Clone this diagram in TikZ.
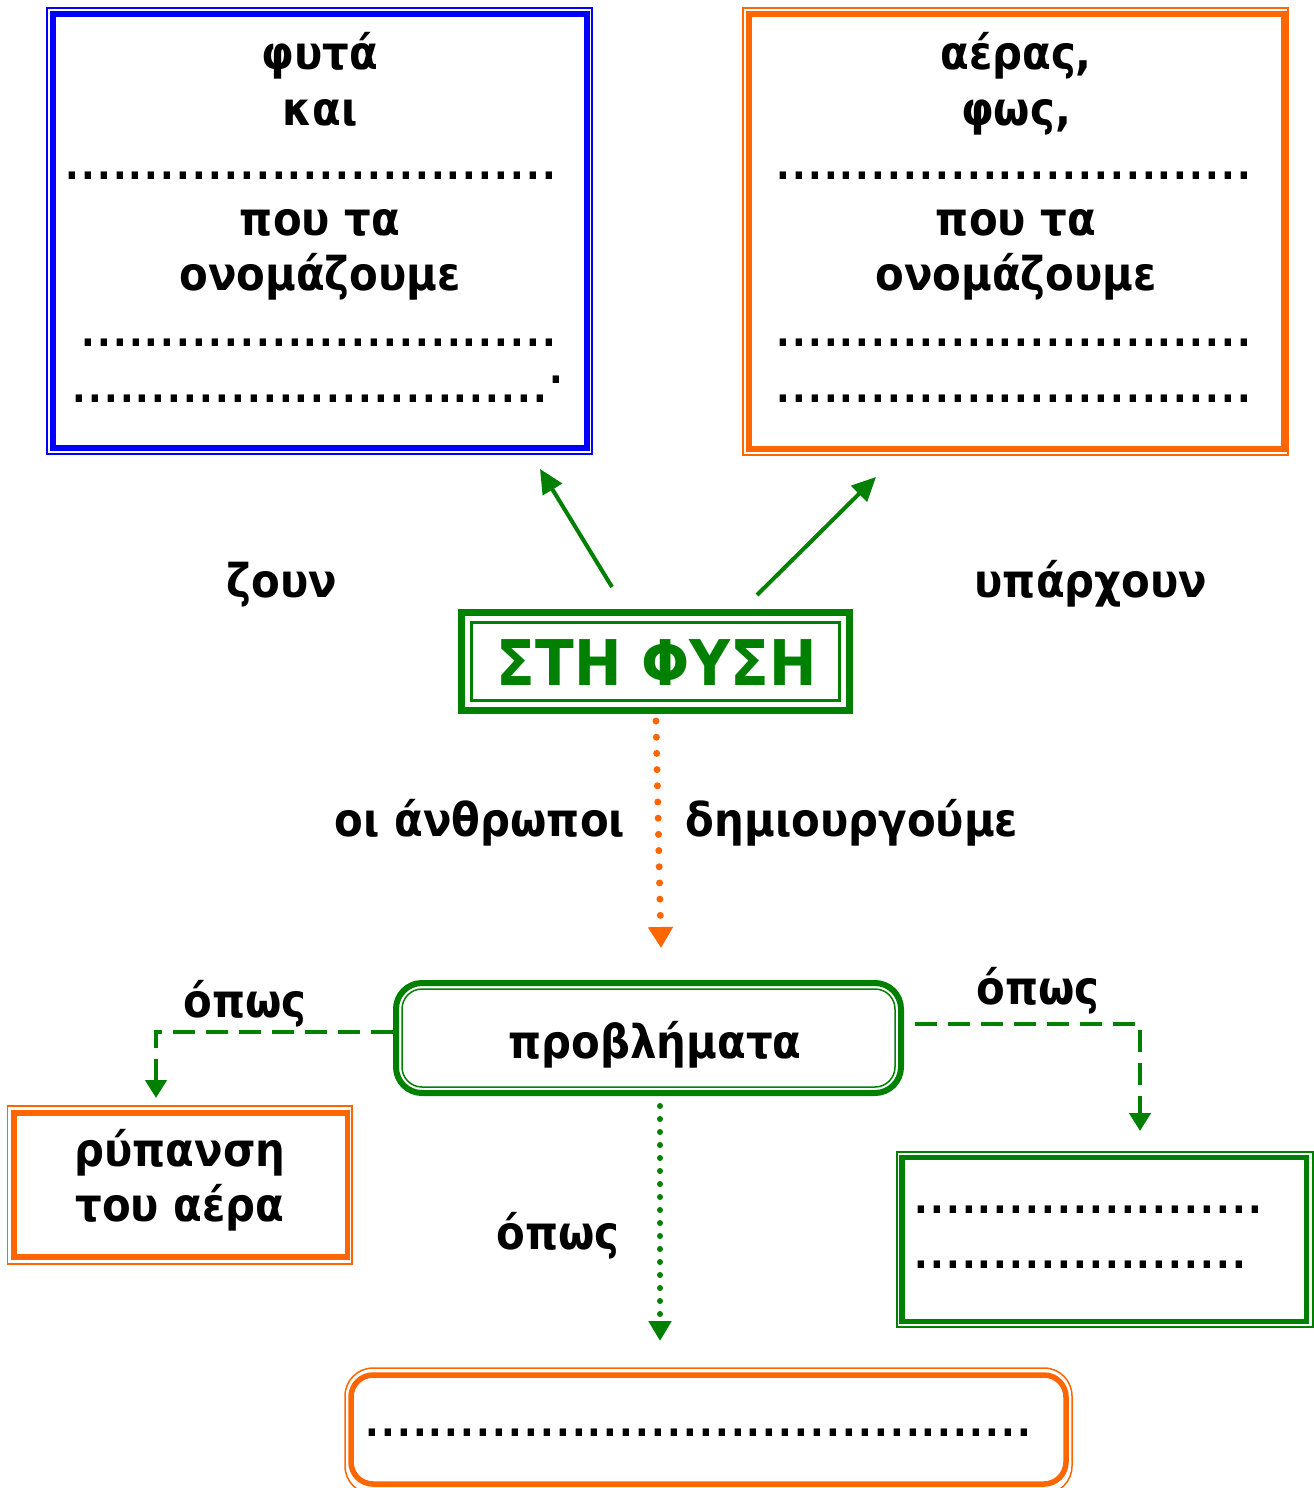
\documentclass[tikz,border=0pt]{standalone}
\usepackage{fontspec}
\setmainfont{DejaVu Sans}[FakeStretch=0.9]
\usetikzlibrary{arrows.meta}
\definecolor{cblue}{HTML}{0000FF}
\definecolor{corange}{HTML}{FF6600}
\definecolor{cgreen}{HTML}{008000}
\newcommand\dotrow[1]{\foreach \k in {1,...,#1}{\makebox[15.9pt]{.}}}
\begin{document}
\begin{tikzpicture}[x=1pt,y=-1pt,
  txt/.style={font=\fontsize{46.5}{54}\selectfont\bfseries, inner sep=0pt, anchor=base},
  dotline/.style={font=\fontsize{40}{46}\selectfont\bfseries, inner sep=0pt, anchor=base west},
  frame/.style={line width=#1},
  garrow/.style={draw=cgreen, line width=4pt, -{Triangle[length=24pt,width=22pt]}},
  gdash/.style={draw=cgreen, line width=4.5pt, dash pattern=on 22pt off 11pt, -{Triangle[length=18pt,width=21pt]}},
  odots/.style={draw=corange, line width=7pt, line cap=round, dash pattern=on 0pt off 16.2pt, -{Triangle[length=21pt,width=24pt]}},
  gdots/.style={draw=cgreen, line width=6pt, line cap=round, dash pattern=on 0pt off 13pt, -{Triangle[length=20pt,width=22pt]}},
]
\useasboundingbox (0,0) rectangle (1314,1488);
\fill[white] (0,0) rectangle (1314,1488);

% top-left blue box
\draw[cblue, frame=1.5pt] (47,8) rectangle (592,454);
\draw[cblue, frame=6pt] (53,14.5) rectangle (586.5,448);
\node[txt] (tl1) at (320,70) {φυτά};
\node[txt] (tl2) at (320,125) {και};
\node[dotline] (tl3) at (64,179) {\dotrow{31}};
\node[txt] (tl4) at (320,235) {που τα};
\node[txt] (tl5) at (320,290) {ονομάζουμε};
\node[dotline] (tl6) at (80,346) {\dotrow{30}};
\node[dotline] (tl7) at (71,402) {\dotrow{30}\raisebox{19pt}{\makebox[15.9pt]{.}}};

% top-right orange box
\draw[corange, frame=1.5pt] (743,8) rectangle (1288,455);
\draw[corange, frame=6pt] (749,14.5) rectangle (1283.5,449);
\node[txt] (tr1) at (1016,70) {αέρας,};
\node[txt] (tr2) at (1016,125) {φως,};
\node[dotline] (tr3) at (775,179) {\dotrow{30}};
\node[txt] (tr4) at (1016,235) {που τα};
\node[txt] (tr5) at (1016,290) {ονομάζουμε};
\node[dotline] (tr6) at (775,346) {\dotrow{30}};
\node[dotline] (tr7) at (775,402) {\dotrow{30}};

% labels
\node[txt] (zoun) at (282,597) {ζουν};
\node[txt] (yparx) at (1091,597) {υπάρχουν};

% centre box
\draw[cgreen, frame=7pt] (461,612.5) rectangle (849.5,710.5);
\draw[cgreen, frame=3pt] (471.5,622.5) rectangle (839,700);
\node[txt, text=cgreen, font=\fontsize{63}{70}\selectfont\bfseries] (fysi) at (657,685) {ΣΤΗ ΦΥΣΗ};

% arrows up
\coordinate (a1s) at (612,587);
\coordinate (a1e) at (540,469);
\coordinate (a2s) at (757,595);
\coordinate (a2e) at (876,477);
\draw[garrow] (a1s) -- (a1e);
\draw[garrow] (a2s) -- (a2e);

% orange dotted arrow
\coordinate (o1s) at (656,721);
\coordinate (o1e) at (661,948);
\draw[odots] (o1s) -- (o1e);
\node[txt] (anthr) at (480,836) {οι άνθρωποι};
\node[txt] (dimi) at (852,836) {δημιουργούμε};

% problems box
\draw[cgreen, frame=6pt, rounded corners=26pt] (396,983) rectangle (901,1093);
\draw[cgreen, frame=1.5pt, rounded corners=20pt] (402,989) rectangle (895,1087);
\node[txt] (probl) at (655,1058) {προβλήματα};

% dashed connectors
\coordinate (l1) at (393,1032);
\coordinate (l2) at (156,1032);
\coordinate (l3) at (156,1098);
\draw[gdash] (l1) -- (l2) -- (l3);
\node[txt] (opos1) at (245,1017) {όπως};
\coordinate (r1) at (915,1024);
\coordinate (r2) at (1140,1024);
\coordinate (r3) at (1140,1131);
\draw[gdash] (r1) -- (r2) -- (r3);
\node[txt] (opos2) at (1038,1004) {όπως};

% green dotted down
\coordinate (d1) at (660,1106);
\coordinate (d2) at (660,1341);
\draw[gdots] (d1) -- (d2);
\node[txt] (opos3) at (558,1249) {όπως};

% bottom-left orange box
\draw[corange, frame=1.5pt] (7.5,1106) rectangle (352,1264);
\draw[corange, frame=5.5pt] (14,1113) rectangle (347.5,1257);
\node[txt] (ryp1) at (180,1166) {ρύπανση};
\node[txt] (ryp2) at (180,1221) {του αέρα};

% right green box
\draw[cgreen, frame=1.5pt] (897,1152) rectangle (1313,1327);
\draw[cgreen, frame=5.5pt] (902,1157.5) rectangle (1306.5,1321.5);
\node[dotline] (rg1) at (913,1213) {\dotrow{22}};
\node[dotline] (rg2) at (913,1268) {\dotrow{21}};

% bottom orange rounded box
\draw[corange, frame=1.5pt, rounded corners=28pt] (345,1368) rectangle (1072,1494);
\draw[corange, frame=5.5pt, rounded corners=22pt] (351,1375) rectangle (1066,1484);
\node[dotline] (bo1) at (364,1436) {\dotrow{42}};
\end{tikzpicture}
\end{document}
